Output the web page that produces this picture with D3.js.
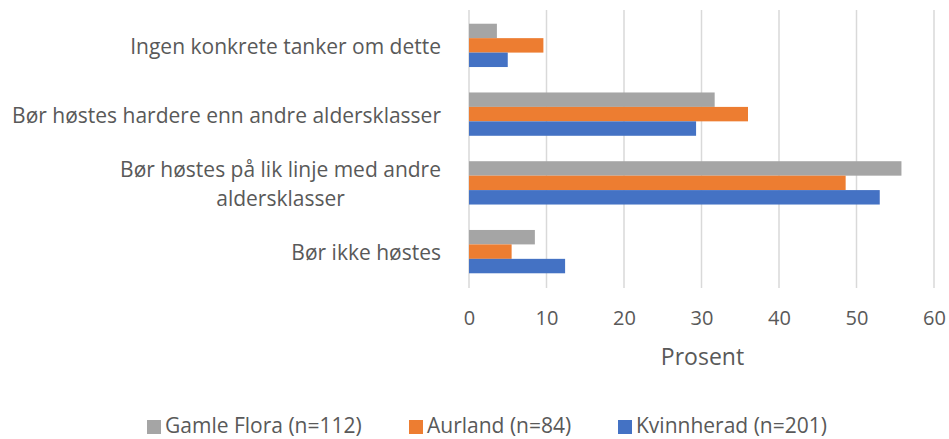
<!DOCTYPE html>
<html><head><meta charset="utf-8">
<script src="https://cdn.jsdelivr.net/npm/d3@7"></script>
<style>
body{margin:0;background:#fff;}
text{font-family:"Open Sans","Lato",sans-serif;fill:#595959;}
</style></head>
<body><svg id="c" width="949" height="439"></svg>
<script>
const categories = ["Ingen konkrete tanker om dette", "Bør høstes hardere enn andre aldersklasser", "Bør høstes på lik linje med andre aldersklasser", "Bør ikke høstes"];
const categoryLines = [["Ingen konkrete tanker om dette"], ["Bør høstes hardere enn andre aldersklasser"], ["Bør høstes på lik linje med andre", "aldersklasser"], ["Bør ikke høstes"]];
const seriesNames = ["Gamle Flora (n=112)", "Aurland (n=84)", "Kvinnherad (n=201)"];
const gamleFlora = [3.6, 31.7, 55.8, 8.5];
const aurland = [9.6, 36.0, 48.6, 5.5];
const kvinnherad = [5.0, 29.3, 53.0, 12.4];
const seriesValues = [gamleFlora, aurland, kvinnherad];
const colors = ["#A5A5A5", "#ED7D31", "#4472C4"];
const xTicks = [0, 10, 20, 30, 40, 50, 60];
const xTitle = "Prosent";

const svg = d3.select("#c");
const L = 469, R = 934, T = 11, B = 286;
const x = d3.scaleLinear().domain([0, 60]).range([L, R]);
const y = d3.scaleBand().domain(categories).range([T, B]).paddingInner(0.37).paddingOuter(0.185);
const ys = d3.scaleBand().domain(d3.range(3)).range([0, y.bandwidth()]);

// gridlines
svg.append("g").selectAll("line").data(xTicks).join("line")
  .attr("x1", d => x(d)).attr("x2", d => x(d))
  .attr("y1", T - 1).attr("y2", B + 2)
  .attr("stroke", "#D9D9D9").attr("stroke-width", 1.5);

// axis labels
const ax = svg.append("g").attr("transform", `translate(0,${B})`)
  .call(d3.axisBottom(x).tickValues(xTicks).tickSize(0).tickPadding(0).tickFormat(d3.format("d")));
ax.select(".domain").remove();
ax.selectAll("text").attr("dy", null).attr("y", 39).style("font-size", "20px").attr("fill", "#595959");

svg.append("text").attr("x", (L + R) / 2 + 1).attr("y", 365).attr("text-anchor", "middle")
  .style("font-size", "23px").text(xTitle);

// bars
const g = svg.append("g");
categories.forEach((c, i) => {
  seriesValues.forEach((vals, s) => {
    g.append("rect")
      .attr("x", x(0)).attr("y", y(c) + ys(s))
      .attr("width", x(vals[i]) - x(0)).attr("height", ys.bandwidth())
      .attr("fill", colors[s]);
  });
});

// category labels
categories.forEach((c, i) => {
  const lines = categoryLines[i];
  const cy = y(c) + y.bandwidth() / 2;
  const lh = 29;
  const t = svg.append("text").style("font-size", "21px").attr("text-anchor", "middle");
  const spans = lines.map((ln, k) => t.append("tspan").attr("y", cy + 8.5 + (k - (lines.length - 1) / 2) * lh).text(ln));
  const widths = spans.map(s => s.node().getComputedTextLength());
  const maxW = d3.max(widths);
  spans.forEach(s => s.attr("x", 441 - maxW / 2));
});

// legend
const legX = [147, 409, 618];
seriesNames.forEach((n, s) => {
  svg.append("rect").attr("x", legX[s]).attr("y", 420).attr("width", 14).attr("height", 14).attr("fill", colors[s]);
  svg.append("text").attr("x", legX[s] + 18).attr("y", 433).style("font-size", "21px").text(n);
});
</script></body></html>
